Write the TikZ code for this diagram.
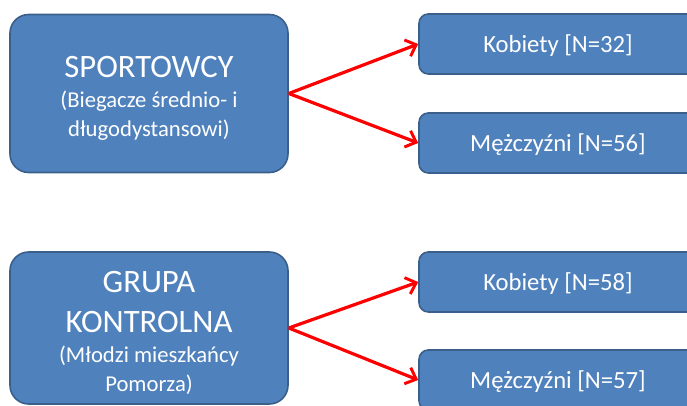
\documentclass[tikz,border=0pt]{standalone}
\usepackage{fontspec}
\setmainfont{Carlito}
\usetikzlibrary{arrows.meta,positioning}
\definecolor{boxblue}{HTML}{4F81BD}
\definecolor{edgeblue}{HTML}{3A5F8B}
\newcommand{\pxl}{0.75pt}
\newcommand{\titlefont}{\fontsize{24.5}{30}\selectfont\rule{0pt}{23pt}}
\newcommand{\subfont}{\fontsize{17}{21.5}\selectfont}
\begin{document}
\begin{tikzpicture}[
  x=0.75pt,y=-0.75pt,
  group/.style={draw=edgeblue,fill=boxblue,line width=1.2pt,text=white,
    rounded corners=14pt,align=center,inner sep=0pt,font=\subfont,
    minimum width=278*\pxl,minimum height=158*\pxl},
  subgroup/.style={draw=edgeblue,fill=boxblue,line width=1.2pt,text=white,
    rounded corners=7pt,align=center,inner sep=0pt,
    minimum width=278*\pxl,minimum height=60*\pxl,
    text height=14pt,text depth=1pt,
    font=\fontsize{18.5}{21}\selectfont},
  split/.style={-{Straight Barb[length=7pt,width=13pt,line width=2.2pt]},
    draw=red,line width=2.4pt}]
\path[use as bounding box] (0,0) rectangle (687,406);
\clip (0,0) rectangle (687,406);
\node[group] (sport) at (149,93.5)
  {\titlefont SPORTOWCY\\[1pt](Biegacze średnio- i\\długodystansowi)};
\node[subgroup] (sportk) at (558,44) {Kobiety [N=32]};
\node[subgroup] (sportm) at (558,143) {Mężczyźni [N=56]};
\draw[split] (sport.east) -- (sportk.west);
\draw[split] (sport.east) -- (sportm.west);

\node[group,minimum height=152*\pxl] (ctrl) at (149,328)
  {\titlefont GRUPA\\[9pt]\fontsize{24.5}{30}\selectfont KONTROLNA\\[1pt](Młodzi mieszkańcy\\Pomorza)};
\node[subgroup] (ctrlk) at (558,282) {Kobiety [N=58]};
\node[subgroup] (ctrlm) at (558,380) {Mężczyźni [N=57]};
\draw[split] (ctrl.east) -- (ctrlk.west);
\draw[split] (ctrl.east) -- (ctrlm.west);
\end{tikzpicture}
\end{document}
